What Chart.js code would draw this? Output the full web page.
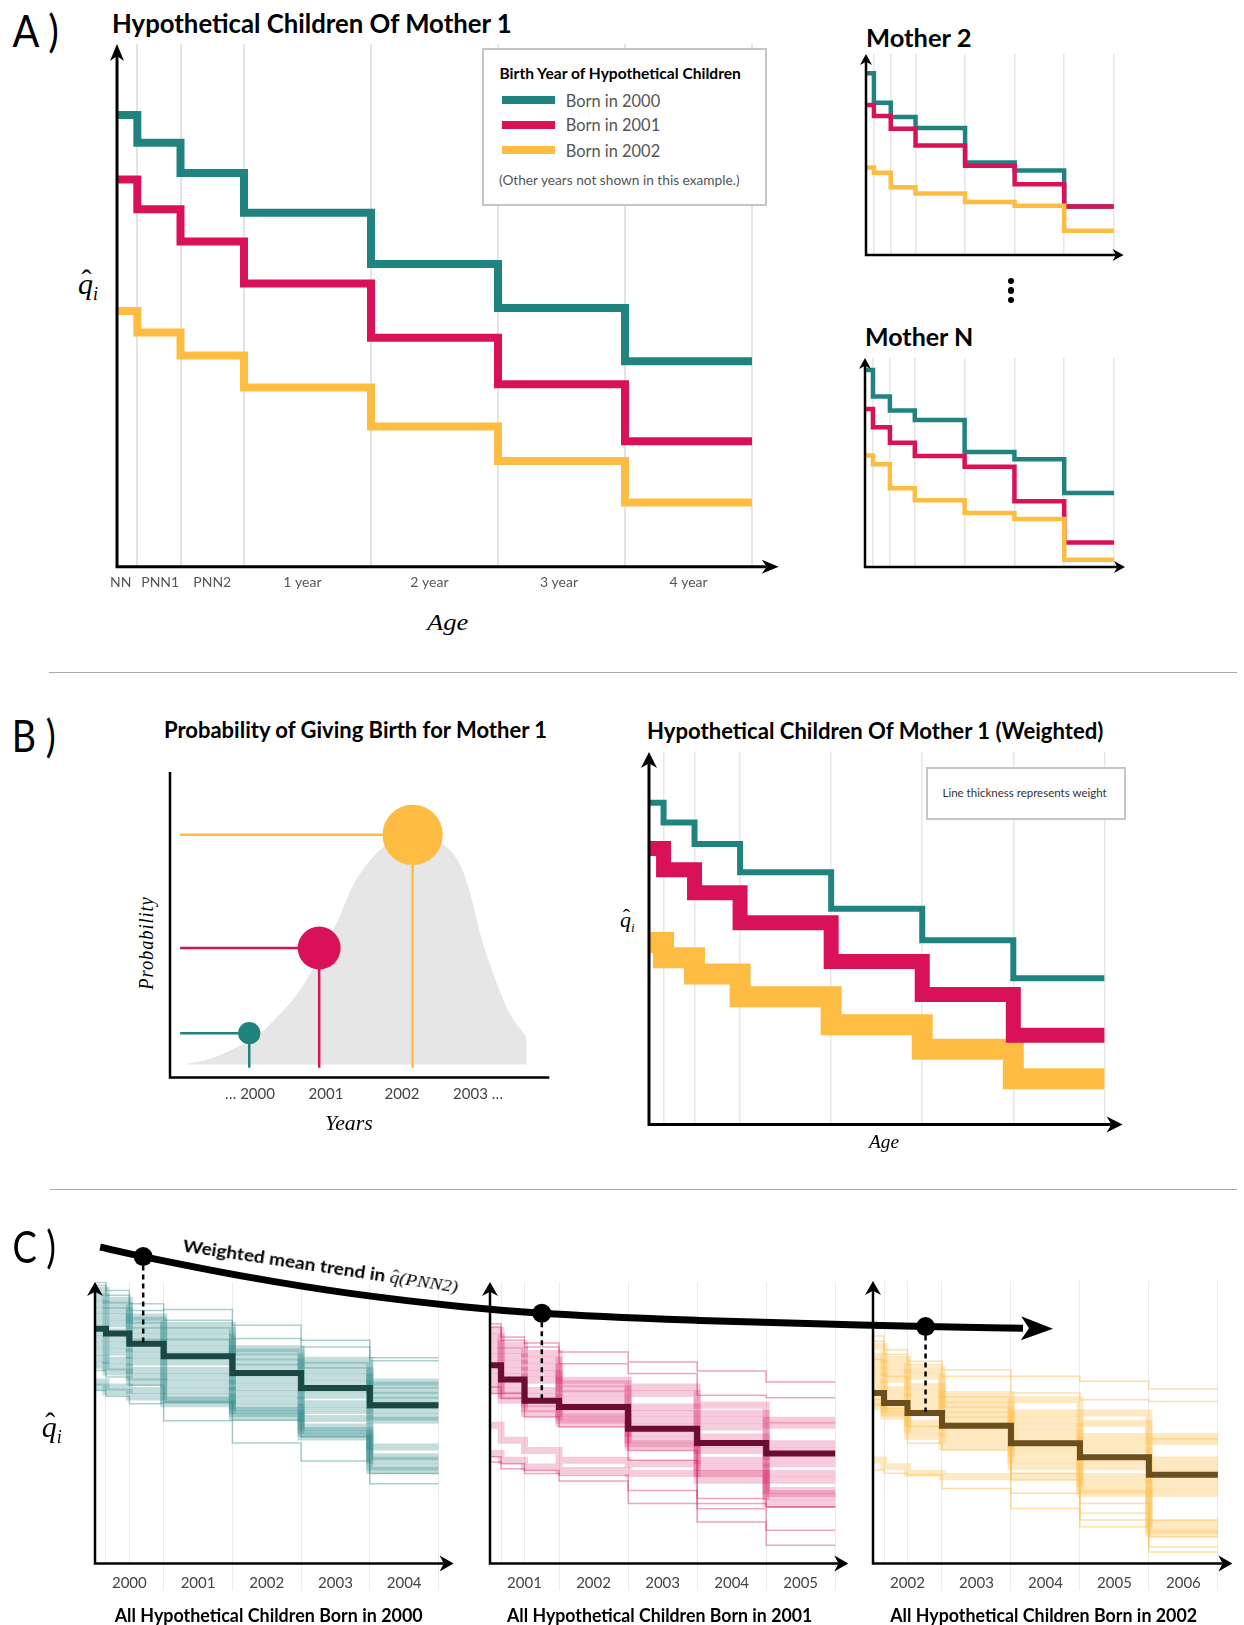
<!DOCTYPE html>
<html>
<head>
<meta charset="utf-8">
<script src="https://cdn.jsdelivr.net/npm/chart.js@4.4.1/dist/chart.umd.min.js"></script>
<style>
  html, body { margin: 0; padding: 0; background: #fff; }
  body { width: 1244px; height: 1625px; position: relative; overflow: hidden; font-family: Lato, "Open Sans", sans-serif; color: #000; }
  canvas { position: absolute; }
  .t { position: absolute; white-space: nowrap; line-height: 1; }
  .serif { font-family: "Liberation Serif", "DejaVu Serif", serif; font-style: italic; font-weight: 400; }
  .q { position: relative; display: inline-block; }
  .q .hat { position: absolute; left: 0.12em; top: -0.12em; font-style: normal; }
  .q-sub { font-size: 0.6em; vertical-align: -0.35em; }
  .box { position: absolute; border: 2px solid #c6c6c6; box-sizing: border-box; background: #fff; }
  .rule { position: absolute; height: 0; border-top: 1.5px solid #a9a9a9; }
  .dot { position: absolute; border-radius: 50%; background: #000; }
  .swatch { position: absolute; }
</style>
</head>
<body>
<script>
// ---------- data ----------
const ageGroups = ['NN', 'PNN1', 'PNN2', '1 year', '2 year', '3 year', '4 year'];
const ageBounds = [0, 0.16, 0.5, 1, 2, 3, 4, 5];
const ageLabelPos = [0.03, 0.34, 0.75, 1.46, 2.46, 3.48, 4.5];
const seriesNames = ['Born in 2000', 'Born in 2001', 'Born in 2002'];

// Mother 1 (panel A, and weighted in panel B)
const m1Born2000 = [0.864, 0.811, 0.753, 0.677, 0.579, 0.495, 0.393];
const m1Born2001 = [0.741, 0.684, 0.622, 0.542, 0.438, 0.349, 0.240];
const m1Born2002 = [0.489, 0.448, 0.404, 0.343, 0.268, 0.202, 0.123];

// Mother 2
const m2Born2000 = [0.904, 0.757, 0.687, 0.632, 0.460, 0.420, 0.241];
const m2Born2001 = [0.746, 0.691, 0.628, 0.545, 0.444, 0.352, 0.241];
const m2Born2002 = [0.435, 0.409, 0.337, 0.306, 0.263, 0.245, 0.120];

// Mother N
const mNBorn2000 = [0.943, 0.816, 0.749, 0.703, 0.550, 0.515, 0.354];
const mNBorn2001 = [0.756, 0.669, 0.595, 0.531, 0.480, 0.315, 0.117];
const mNBorn2002 = [0.533, 0.492, 0.377, 0.319, 0.258, 0.230, 0.035];

// panel B, probability of giving birth
const probTicks = [2000, 2001, 2002, 2003];
const probTickLabels = ['… 2000', '2001', '2002', '2003 …'];
const birthYearPos = [1999.99, 2000.91, 2002.14];
const birthProb = [0.107, 0.398, 0.785];
const densityYear = [1999.17, 1999.47, 1999.69, 2000.13, 2000.35, 2000.57, 2000.79, 2001.18, 2001.34,
  2001.54, 2001.80, 2002.15, 2002.54, 2002.76, 2002.90, 2003.03, 2003.20, 2003.42, 2003.64];
const densityProb = [0.002, 0.019, 0.042, 0.105, 0.161, 0.224, 0.310, 0.506, 0.605,
  0.685, 0.753, 0.782, 0.753, 0.685, 0.583, 0.446, 0.310, 0.173, 0.093];

// panel C, all hypothetical children per birth year (1 = wide band, 0 = thin line)
const c2000Years = ['2000', '2001', '2002', '2003', '2004'];
const c2000Mean = [0.834, 0.817, 0.781, 0.736, 0.677, 0.624, 0.562];
const c2000Kind = [0, 0, 1, 1, 1, 1, 1, 1, 1, 1, 1, 1, 1, 1, 0, 1, 1, 0];
const c2000Lines = [
  [0.998, 0.970, 0.899, 0.902, 0.846, 0.793, 0.731],
  [0.988, 0.953, 0.923, 0.864, 0.799, 0.769, 0.720],
  [0.970, 0.935, 0.876, 0.846, 0.763, 0.722, 0.645],
  [0.947, 0.917, 0.864, 0.828, 0.751, 0.704, 0.633],
  [0.923, 0.899, 0.846, 0.805, 0.734, 0.686, 0.615],
  [0.899, 0.876, 0.828, 0.787, 0.716, 0.663, 0.598],
  [0.876, 0.852, 0.805, 0.763, 0.698, 0.639, 0.580],
  [0.852, 0.822, 0.787, 0.740, 0.675, 0.621, 0.562],
  [0.822, 0.799, 0.763, 0.716, 0.651, 0.598, 0.544],
  [0.799, 0.775, 0.740, 0.686, 0.627, 0.568, 0.521],
  [0.775, 0.751, 0.716, 0.663, 0.604, 0.544, 0.509],
  [0.751, 0.722, 0.686, 0.639, 0.580, 0.515, 0.414],
  [0.728, 0.698, 0.663, 0.615, 0.556, 0.485, 0.379],
  [0.704, 0.680, 0.645, 0.592, 0.533, 0.462, 0.343],
  [0.686, 0.663, 0.633, 0.574, 0.509, 0.450, 0.320],
  [0.645, 0.627, 0.615, 0.568, 0.544, 0.473, 0.367],
  [0.627, 0.609, 0.592, 0.580, 0.521, 0.450, 0.331],
  [0.615, 0.594, 0.568, 0.507, 0.428, 0.364, 0.284]
];

const c2001Years = ['2001', '2002', '2003', '2004', '2005'];
const c2001Mean = [0.704, 0.654, 0.578, 0.556, 0.479, 0.428, 0.391];
const c2001Kind = [0, 0, 1, 1, 1, 1, 1, 1, 1, 1, 1, 1, 0, 0, 1, 1, 0, 0];
const c2001Lines = [
  [0.852, 0.805, 0.783, 0.751, 0.716, 0.684, 0.645],
  [0.840, 0.793, 0.769, 0.710, 0.675, 0.598, 0.589],
  [0.828, 0.775, 0.746, 0.651, 0.627, 0.562, 0.509],
  [0.805, 0.757, 0.722, 0.639, 0.604, 0.533, 0.491],
  [0.781, 0.734, 0.698, 0.621, 0.556, 0.509, 0.426],
  [0.757, 0.710, 0.675, 0.604, 0.533, 0.485, 0.402],
  [0.734, 0.686, 0.651, 0.580, 0.509, 0.450, 0.379],
  [0.710, 0.663, 0.615, 0.556, 0.485, 0.426, 0.355],
  [0.686, 0.639, 0.592, 0.533, 0.462, 0.402, 0.320],
  [0.663, 0.615, 0.568, 0.509, 0.438, 0.367, 0.296],
  [0.639, 0.598, 0.550, 0.497, 0.414, 0.343, 0.260],
  [0.615, 0.580, 0.533, 0.521, 0.426, 0.320, 0.237],
  [0.604, 0.586, 0.521, 0.485, 0.402, 0.231, 0.201],
  [0.627, 0.604, 0.580, 0.556, 0.367, 0.195, 0.118],
  [0.491, 0.438, 0.402, 0.367, 0.355, 0.320, 0.249],
  [0.391, 0.367, 0.343, 0.331, 0.320, 0.296, 0.213],
  [0.361, 0.337, 0.331, 0.293, 0.260, 0.148, 0.065],
  [0.379, 0.355, 0.320, 0.314, 0.213, 0.213, 0.201]
];

const c2002Years = ['2002', '2003', '2004', '2005', '2006'];
const c2002Mean = [0.604, 0.568, 0.533, 0.488, 0.426, 0.376, 0.314];
const c2002Kind = [0, 0, 1, 1, 1, 1, 1, 1, 1, 1, 1, 1, 0, 0, 1, 0, 0];
const c2002Lines = [
  [0.805, 0.757, 0.716, 0.686, 0.663, 0.645, 0.618],
  [0.787, 0.740, 0.704, 0.663, 0.604, 0.580, 0.574],
  [0.769, 0.722, 0.686, 0.598, 0.580, 0.533, 0.450],
  [0.734, 0.698, 0.663, 0.580, 0.533, 0.497, 0.432],
  [0.710, 0.675, 0.627, 0.562, 0.509, 0.450, 0.367],
  [0.686, 0.651, 0.604, 0.544, 0.485, 0.426, 0.343],
  [0.663, 0.615, 0.580, 0.527, 0.462, 0.402, 0.320],
  [0.639, 0.592, 0.556, 0.509, 0.438, 0.367, 0.296],
  [0.615, 0.568, 0.533, 0.485, 0.414, 0.343, 0.272],
  [0.592, 0.544, 0.497, 0.462, 0.391, 0.308, 0.249],
  [0.568, 0.533, 0.473, 0.438, 0.367, 0.284, 0.142],
  [0.556, 0.521, 0.450, 0.414, 0.343, 0.260, 0.118],
  [0.580, 0.550, 0.426, 0.402, 0.320, 0.213, 0.095],
  [0.604, 0.568, 0.485, 0.485, 0.296, 0.178, 0.059],
  [0.367, 0.343, 0.320, 0.308, 0.308, 0.249, 0.107],
  [0.331, 0.320, 0.314, 0.266, 0.249, 0.130, 0.041],
  [0.722, 0.663, 0.533, 0.497, 0.195, 0.154, 0.154]
];

// weighted mean trend in q(PNN2) across birth years
const trendYear = [1999.890, 2000.000, 2000.273, 2000.529, 2000.810, 2001.019, 2001.423, 2001.832, 2002.000, 2002.249];
const trendQ = [0.764, 0.717, 0.613, 0.533, 0.468, 0.434, 0.398, 0.375, 0.367, 0.359];
const trendDotYear = [2000.000, 2001.019, 2002.000];
const trendDotQ = [0.717, 0.434, 0.367];
const trendDropQ = [0.285, 0.008, -0.059];

// ---------- styles ----------
const colors = ['#218380', '#d81159', '#ffbc42'];
const darkColors = ['#1b4744', '#6b0d33', '#6b4f1e'];
const rgbs = ['33,131,128', '216,17,89', '255,188,66'];
const clear = 'rgba(0,0,0,0)';

Chart.defaults.animation = false;
Chart.defaults.responsive = false;
Chart.defaults.maintainAspectRatio = false;
Chart.defaults.events = [];
Chart.defaults.plugins.legend.display = false;
Chart.defaults.plugins.tooltip.enabled = false;
Chart.defaults.elements.point.radius = 0;
Chart.defaults.font.family = 'Lato, "Open Sans", sans-serif';

// black axes with optional arrow heads, drawn over the data
const axesPlugin = {
  id: 'axes',
  afterDraw(chart, args, o) {
    const { ctx, chartArea: a } = chart;
    const head = o.arrows ? o.head : 0;
    ctx.save();
    ctx.strokeStyle = '#000';
    ctx.fillStyle = '#000';
    ctx.lineWidth = o.width;
    ctx.beginPath();
    ctx.moveTo(a.left, a.top + head * 0.7);
    ctx.lineTo(a.left, a.bottom);
    ctx.lineTo(a.right - head * 0.7, a.bottom);
    ctx.stroke();
    if (o.arrows) {
      const h = o.half;
      ctx.beginPath();
      ctx.moveTo(a.left, a.top);
      ctx.lineTo(a.left + h, a.top + head);
      ctx.lineTo(a.left, a.top + head * 0.7);
      ctx.lineTo(a.left - h, a.top + head);
      ctx.closePath();
      ctx.fill();
      ctx.beginPath();
      ctx.moveTo(a.right, a.bottom);
      ctx.lineTo(a.right - head, a.bottom - h);
      ctx.lineTo(a.right - head * 0.7, a.bottom);
      ctx.lineTo(a.right - head, a.bottom + h);
      ctx.closePath();
      ctx.fill();
    }
    ctx.restore();
  }
};

const steps = vals => ageBounds.map((x, i) => ({ x, y: vals[Math.min(i, vals.length - 1)] }));

function makeCanvas(area, pad, xh) {
  const cv = document.createElement('canvas');
  const w = Math.round(area.r - area.l + pad.l + pad.r);
  const h = Math.round(area.b - area.t + pad.t + xh + pad.b);
  cv.width = w;
  cv.height = h;
  cv.style.left = (area.l - pad.l) + 'px';
  cv.style.top = (area.t - pad.t) + 'px';
  cv.style.width = w + 'px';
  cv.style.height = h + 'px';
  document.body.appendChild(cv);
  const layout = {
    autoPadding: false,
    padding: {
      left: pad.l, top: pad.t,
      right: w - pad.l - (area.r - area.l),
      bottom: h - pad.t - (area.b - area.t) - xh
    }
  };
  return { cv, layout };
}

function ageAxis(max, o) {
  const labelAt = o.labelAt || [];
  const labelText = o.labelText || [];
  const all = [...new Set(ageBounds.concat(labelAt))].sort((a, b) => a - b);
  const isBound = v => ageBounds.some(b => Math.abs(b - v) < 1e-6);
  const gridCol = o.gridColor || '#e6e6e6';
  return {
    type: 'linear', min: 0, max,
    border: { display: false },
    afterBuildTicks: s => { s.ticks = all.map(v => ({ value: v })); },
    afterFit: s => { s.height = o.height || 0; },
    grid: {
      color: c => (c.tick && c.tick.value > 0 && isBound(c.tick.value)) ? gridCol : clear,
      // tick marks below the axis only at whole years
      tickColor: c => (c.tick && c.tick.value > 0 && Number.isInteger(c.tick.value)) ? gridCol : clear,
      lineWidth: o.gridWidth || 1.5,
      drawTicks: !!o.tickLength,
      tickLength: o.tickLength || 0
    },
    ticks: {
      display: labelAt.length > 0,
      autoSkip: false, maxRotation: 0, minRotation: 0,
      padding: o.padding || 0,
      color: o.labelColor || '#4a4a4a',
      font: { size: o.fontSize || 15 },
      callback: v => {
        const i = labelAt.findIndex(p => Math.abs(p - v) < 1e-6);
        return i >= 0 ? labelText[i] : '';
      }
    }
  };
}

function stepChart(area, xmax, datasets, axisOpts, arrows) {
  const xh = axisOpts.height || 0;
  const { cv, layout } = makeCanvas(area, { l: 12, r: 4, t: 2, b: xh ? 0 : 10 }, xh);
  return new Chart(cv, {
    type: 'line',
    data: { datasets },
    options: {
      layout,
      scales: {
        x: ageAxis(xmax, axisOpts),
        y: { display: false, min: 0, max: 1.0 }
      },
      plugins: { axes: arrows }
    },
    plugins: [axesPlugin]
  });
}

const lineSet = (series, widths, orders) => series.map((vals, i) => ({
  data: steps(vals), stepped: true,
  borderColor: colors[i], borderWidth: widths[i], order: orders ? orders[i] : i
}));

const yearMids = [0.5, 1.5, 2.5, 3.5, 4.5];

// ---------- panel A ----------
stepChart({ l: 117.3, t: 43.5, r: 779, b: 566.2 }, 5.21,
  lineSet([m1Born2000, m1Born2001, m1Born2002], [8, 8, 8]),
  { labelAt: ageLabelPos, labelText: ageGroups, height: 40, padding: 7.5, fontSize: 14, gridColor: '#e4e4e4', gridWidth: 2, labelColor: '#555' },
  { arrows: true, width: 3, head: 17, half: 7 });

stepChart({ l: 865.7, t: 53.6, r: 1123.3, b: 254.5 }, 5.2,
  lineSet([m2Born2000, m2Born2001, m2Born2002], [4.5, 4.5, 4.5], [2, 1, 0]),
  { gridColor: '#e6e6e6', gridWidth: 1.5 },
  { arrows: true, width: 2.5, head: 11, half: 6 });

stepChart({ l: 865, t: 358, r: 1125, b: 567 }, 5.22,
  lineSet([mNBorn2000, mNBorn2001, mNBorn2002], [4.5, 4.5, 4.5], [2, 1, 0]),
  { gridColor: '#e6e6e6', gridWidth: 1.5 },
  { arrows: true, width: 2.5, head: 11, half: 6 });

// ---------- panel B ----------
(function probabilityChart() {
  const area = { l: 170, t: 771.7, r: 549.3, b: 1077.3 };
  const { cv, layout } = makeCanvas(area, { l: 12, r: 4, t: 2, b: 0 }, 40);
  const datasets = [{
    data: densityYear.map((x, i) => ({ x, y: densityProb[i] })),
    borderWidth: 0, borderColor: clear, backgroundColor: '#e6e6e6',
    fill: { value: 0 }, cubicInterpolationMode: 'monotone', order: 3
  }];
  birthProb.forEach((p, i) => {
    datasets.push({ data: [{ x: 1999.08, y: p }, { x: birthYearPos[i], y: p }], borderColor: colors[i], borderWidth: 2.5, order: 1 });
    datasets.push({ data: [{ x: birthYearPos[i], y: p }, { x: birthYearPos[i], y: -0.011 }], borderColor: colors[i], borderWidth: 2.5, order: 1 });
    datasets.push({ data: [{ x: birthYearPos[i], y: p }], showLine: false, order: 0,
      pointRadius: 34 * Math.sqrt(p), pointBackgroundColor: colors[i], pointBorderWidth: 0 });
  });
  new Chart(cv, {
    type: 'line',
    data: { datasets },
    options: {
      layout,
      scales: {
        x: {
          type: 'linear', min: 1998.947, max: 2003.938,
          border: { display: false },
          grid: { display: false, drawTicks: false },
          afterBuildTicks: s => { s.ticks = probTicks.map(v => ({ value: v })); },
          afterFit: s => { s.height = 40; },
          ticks: {
            autoSkip: false, maxRotation: 0, padding: 7.7, color: '#444', font: { size: 15 },
            callback: v => probTickLabels[probTicks.indexOf(v)]
          }
        },
        y: { display: false, min: -0.045, max: 1.0 }
      },
      plugins: { axes: { arrows: false, width: 2.5 } }
    },
    plugins: [axesPlugin]
  });
})();

stepChart({ l: 649, t: 751.7, r: 1122.6, b: 1124.3 }, 5.2,
  lineSet([m1Born2000, m1Born2001, m1Born2002], [6, 15, 21]),
  { gridColor: '#e8e8e8', gridWidth: 1.5 },
  { arrows: true, width: 3, head: 16, half: 8 });

// ---------- panel C ----------
function cDatasets(lines, kinds, mean, k, aBand, aThin) {
  const ds = lines.map((vals, i) => ({
    data: steps(vals), stepped: true, order: 1,
    borderColor: `rgba(${rgbs[k]},${kinds[i] ? aBand : aThin})`,
    borderWidth: kinds[i] ? 7 : 1.5
  }));
  ds.push({ data: steps(mean), stepped: true, order: 0, borderColor: darkColors[k], borderWidth: 6 });
  return ds;
}
const cAxis = labels => ({ labelAt: yearMids, labelText: labels, height: 40, tickLength: 27, padding: -16,
  fontSize: 15, gridColor: '#ececec', gridWidth: 1, labelColor: '#444' });
const cArrows = { arrows: true, width: 2.5, head: 14, half: 8 };

stepChart({ l: 94.7, t: 1281.7, r: 453.3, b: 1563.3 }, 5.22,
  cDatasets(c2000Lines, c2000Kind, c2000Mean, 0, 0.27, 0.38), cAxis(c2000Years), cArrows);
stepChart({ l: 490, t: 1281.7, r: 848.3, b: 1563.3 }, 5.19,
  cDatasets(c2001Lines, c2001Kind, c2001Mean, 1, 0.22, 0.38), cAxis(c2001Years), cArrows);
stepChart({ l: 873.3, t: 1280.7, r: 1232.7, b: 1563.3 }, 5.21,
  cDatasets(c2002Lines, c2002Kind, c2002Mean, 2, 0.32, 0.48), cAxis(c2002Years), cArrows);

// trend overlay across the three charts
(function trendOverlay() {
  const cv = document.createElement('canvas');
  cv.width = 1244; cv.height = 265;
  cv.style.left = '0px'; cv.style.top = '1195px';
  cv.style.width = '1244px'; cv.style.height = '265px';
  document.body.appendChild(cv);
  const arrowHead = {
    id: 'arrowHead',
    afterDatasetsDraw(chart) {
      const pts = chart.getDatasetMeta(0).data;
      const p1 = pts[pts.length - 2], p2 = pts[pts.length - 1];
      const ang = Math.atan2(p2.y - p1.y, p2.x - p1.x);
      const { ctx } = chart;
      ctx.save();
      ctx.translate(p2.x, p2.y);
      ctx.rotate(ang);
      ctx.fillStyle = '#000';
      ctx.beginPath();
      ctx.moveTo(30, 0);
      ctx.lineTo(-2, -12);
      ctx.lineTo(6, 0);
      ctx.lineTo(-2, 12);
      ctx.closePath();
      ctx.fill();
      ctx.restore();
    }
  };
  const datasets = [
    { data: trendYear.map((x, i) => ({ x, y: trendQ[i] })), borderColor: '#000', borderWidth: 7,
      cubicInterpolationMode: 'monotone', order: 1 },
    { data: trendDotYear.map((x, i) => ({ x, y: trendDotQ[i] })), showLine: false, order: 0,
      pointRadius: 9.5, pointBackgroundColor: '#000', pointBorderWidth: 0 }
  ];
  trendDotYear.forEach((x, i) => datasets.push({
    data: [{ x, y: trendDotQ[i] }, { x, y: trendDropQ[i] }],
    borderColor: '#000', borderWidth: 2.5, borderDash: [5, 4], order: 2
  }));
  new Chart(cv, {
    type: 'line',
    data: { datasets },
    options: {
      layout: { autoPadding: false, padding: 0 },
      scales: {
        x: { type: 'linear', display: false, min: 1999.634, max: 2002.814 },
        y: { display: false, min: -0.3, max: 1.025 }
      }
    },
    plugins: [arrowHead]
  });
})();

// ---------- text and decorations ----------
function addText(html, x, cy, size, o = {}) {
  const el = document.createElement('div');
  el.className = 't' + (o.cls ? ' ' + o.cls : '');
  el.innerHTML = html;
  el.style.fontSize = size + 'px';
  if (o.weight) el.style.fontWeight = o.weight;
  if (o.color) el.style.color = o.color;
  if (o.ls) el.style.letterSpacing = o.ls + 'px';
  document.body.appendChild(el);
  const nat = el.offsetWidth, h = el.offsetHeight;
  const s = o.w ? o.w / nat : 1;
  const cx = o.center ? x : x + nat * s / 2;
  el.style.left = (cx - nat / 2) + 'px';
  el.style.top = (cy - h / 2) + 'px';
  el.style.transform = `rotate(${o.rot || 0}deg) scaleX(${s})`;
  return el;
}
function addBox(l, t, w, h) {
  const el = document.createElement('div');
  el.className = 'box';
  Object.assign(el.style, { left: l + 'px', top: t + 'px', width: w + 'px', height: h + 'px' });
  document.body.appendChild(el);
}
function addRule(y, x1, x2) {
  const el = document.createElement('div');
  el.className = 'rule';
  Object.assign(el.style, { left: x1 + 'px', top: y + 'px', width: (x2 - x1) + 'px' });
  document.body.appendChild(el);
}
function addDot(x, y, r) {
  const el = document.createElement('div');
  el.className = 'dot';
  Object.assign(el.style, { left: (x - r) + 'px', top: (y - r) + 'px', width: 2 * r + 'px', height: 2 * r + 'px' });
  document.body.appendChild(el);
}
const qHat = '<span class="q">q<span class="hat">ˆ</span></span>';
const qLabel = `<span class="serif">${qHat}<span class="q-sub">i</span></span>`;

// panel A
addText('A )', 12, 30, 44, { w: 46 });
addText('Hypothetical Children Of Mother 1', 111.5, 23, 26, { weight: 700, w: 400 });
addText(qLabel, 78, 285, 30);
addText('Age', 447.6, 621.7, 24, { cls: 'serif', center: true, w: 41 });
addBox(482, 48, 285, 157.6);
addText('Birth Year of Hypothetical Children', 499, 73, 15, { weight: 700, w: 241 });
const legendY = [100, 124.6, 150];
seriesNames.forEach((name, i) => {
  const sw = document.createElement('div');
  sw.className = 'swatch';
  Object.assign(sw.style, { left: '501.7px', top: (legendY[i] - 4) + 'px', width: '53.3px', height: '8px', background: colors[i] });
  document.body.appendChild(sw);
  addText(name, 565.7, legendY[i], 17, { w: 94.5, color: '#555' });
});
addText('(Other years not shown in this example.)', 499, 180.7, 13, { w: 241, color: '#555' });
addText('Mother 2', 865.7, 37, 25, { weight: 700, w: 105 });
addText('Mother N', 865, 336.7, 25, { weight: 700, w: 108 });
[281, 290.5, 300].forEach(y => addDot(1010.7, y, 3.2));
addRule(672, 49, 1237);

// panel B
addText('B )', 12, 735, 44, { w: 43.5 });
addText('Probability of Giving Birth for Mother 1', 164, 730, 22, { weight: 700, w: 383 });
addText('Hypothetical Children Of Mother 1 (Weighted)', 646.6, 731, 22, { weight: 700, w: 456 });
addText('Probability', 145, 943, 20, { cls: 'serif', center: true, rot: -90, ls: 1, w: 93 });
addText('Years', 349, 1123.3, 20, { cls: 'serif', center: true, w: 48 });
addText(qLabel, 620, 921, 22);
addText('Age', 883.7, 1142, 18, { cls: 'serif', center: true, w: 30 });
addBox(925.8, 767.3, 200.7, 52.7);
addText('Line thickness represents weight', 1024.6, 793.3, 12, { center: true, w: 164, color: '#333' });
addRule(1189.3, 50, 1237);

// panel C
addText('C )', 12, 1245.5, 44, { w: 43 });
addText(`Weighted mean trend in <span class="serif">${qHat}(PNN2)</span>`, 320, 1266, 17.5,
  { weight: 700, center: true, rot: 8.5, w: 278 });
addText(qLabel, 41.7, 1428, 30);
addText('All Hypothetical Children Born in 2000', 115, 1614, 19, { weight: 700, w: 307.7 });
addText('All Hypothetical Children Born in 2001', 506.7, 1614, 19, { weight: 700, w: 305 });
addText('All Hypothetical Children Born in 2002', 890, 1614, 19, { weight: 700, w: 306.7 });
</script>
</body>
</html>
